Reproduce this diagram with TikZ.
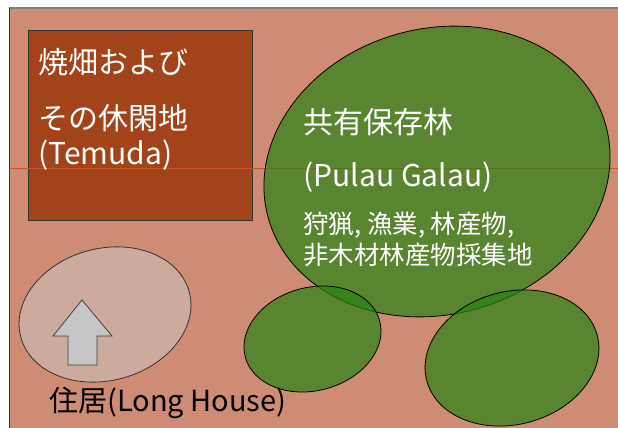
\documentclass[tikz,border=0pt]{standalone}
\usepackage{fontspec}
\setmainfont{Noto Sans CJK JP}
\definecolor{landbg}{RGB}{205,140,115}
\definecolor{temuda}{RGB}{163,67,26}
\definecolor{forestgreen}{RGB}{40,130,20}
\definecolor{housezone}{RGB}{204,170,158}
\definecolor{seamline}{RGB}{200,85,35}

\begin{document}
\begin{tikzpicture}[x=0.5pt,y=-0.5pt,
    zone/.style={draw=black,thin,fill=forestgreen,fill opacity=0.7},
    label/.style={anchor=west,inner sep=0pt,text=white}]
        \useasboundingbox (0,0) rectangle (618,428);
        \fill[landbg] (9,8) rectangle (618,428);
        \draw[gray,thick] (9,8) -- (618,8);
        \draw[black!80] (9,8) -- (9,428);
        % slash-and-burn field
        \draw[black!80,fill=temuda] (28,30) rectangle (252,220);
        \draw[seamline,very thin] (9,168) -- (618,168);
        % forests
        \draw[zone,rotate around={15:(437,171.5)}] (437,171.5) ellipse [x radius=87.5pt, y radius=71.5pt];
        \draw[zone,rotate around={15:(312.5,339)}] (312.5,339) ellipse [x radius=34.8pt, y radius=25.8pt];
        \draw[zone,rotate around={15:(512,358)}] (512,358) ellipse [x radius=44.1pt, y radius=33.2pt];
        % long house
        \draw[black!80,fill=housezone,rotate around={15:(105,314.5)}] (105,314.5) ellipse [x radius=43.6pt, y radius=33pt];
        \draw[black!75,fill=gray!45] (82,300) -- (112,336) -- (97,336) -- (97,365)
            -- (68,365) -- (68,336) -- (53,336) -- cycle;
        \node[label,font=\fontsize{15}{18}\selectfont] (temuda1) at (38,62) {焼畑および};
        \node[label,font=\fontsize{15}{18}\selectfont] (temuda2) at (38,118) {その休閑地};
        \node[label,font=\fontsize{15}{18}\selectfont] (temuda3) at (38,155) {(Temuda)};
        \node[label,font=\fontsize{15}{18}\selectfont] (pulau1) at (303,122) {共有保存林};
        \node[label,font=\fontsize{15}{18}\selectfont] (pulau2) at (303,177) {(Pulau Galau)};
        \node[label,font=\fontsize{12.75}{15}\selectfont] (pulau3) at (303,225) {狩猟, 漁業, 林産物,};
        \node[label,font=\fontsize{12.75}{15}\selectfont] (pulau4) at (303,255) {非木材林産物採集地};
        \node[label,text=black,font=\fontsize{14.5}{17}\selectfont] (house) at (49,403) {住居(Long House)};
    \end{tikzpicture}
\end{document}
